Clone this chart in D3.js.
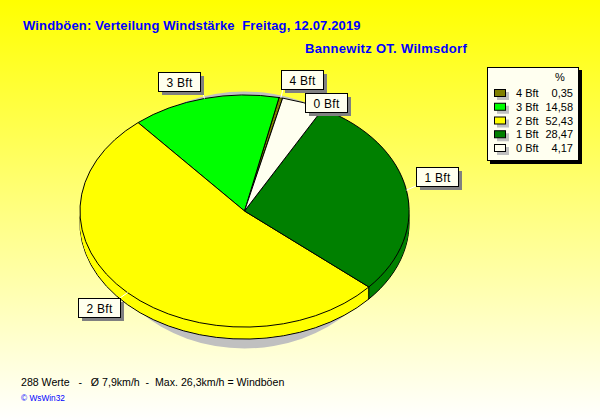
<!DOCTYPE html>
<html><head><meta charset="utf-8">
<script src="https://cdn.jsdelivr.net/npm/d3@7"></script>
<style>html,body{margin:0;padding:0;background:#fff}svg{display:block}text{font-family:"Liberation Sans",Arial,sans-serif;white-space:pre}</style>
</head><body><div id="c"></div>
<script>
const categories = ["4 Bft","3 Bft","2 Bft","1 Bft","0 Bft"];
const percents = [0.35,14.58,52.43,28.47,4.17];
const percentLabels = ["0,35","14,58","52,43","28,47","4,17"];
const colors = ["#808000","#00ff00","#ffff00","#008000","#fffff0"];
const titleText = "Windböen: Verteilung Windstärke  Freitag, 12.07.2019";
const subtitleText = "Bannewitz OT. Wilmsdorf";
const footerText = "288 Werte   -   Ø 7,9km/h  -  Max. 26,3km/h = Windböen";
const creditText = "© WsWin32";

const W=600,H=420,cx=244.5,cy=211,rx=164.5,ry=116,depth=12;
const startDeg=13.4;
const labelBoxes={ "4 Bft":[281,70],"3 Bft":[158,72],"2 Bft":[78,298],"1 Bft":[416,167],"0 Bft":[305,93] };
const leaderEnds={ "4 Bft":[283,89],"3 Bft":[202,90],"2 Bft":[120,298],"1 Bft":[416,186] };

const svg=d3.select("#c").append("svg").attr("width",W).attr("height",H);
const grad=svg.append("defs").append("linearGradient").attr("id","bg").attr("x1",0).attr("x2",0).attr("y1",0).attr("y2",1);
grad.append("stop").attr("offset",0).attr("stop-color","#ffff00");
grad.append("stop").attr("offset",1).attr("stop-color","#ffffff");
svg.append("rect").attr("width",W).attr("height",H).attr("fill","url(#bg)");

svg.append("text").attr("x",23).attr("y",30).attr("font-size",13).attr("letter-spacing",0.15).attr("font-weight","bold").attr("fill","#0000ff").text(titleText);
svg.append("text").attr("x",305).attr("y",53).attr("font-size",13).attr("letter-spacing",0.3).attr("font-weight","bold").attr("fill","#0000ff").text(subtitleText);

// shadow
svg.append("ellipse").attr("cx",cx).attr("cy",220).attr("rx",150).attr("ry",128.5).attr("fill","#c0c0c0");

const s0=startDeg*Math.PI/180;
const pie=d3.pie().sort(null).value((d,i)=>percents[i]).startAngle(s0).endAngle(s0-2*Math.PI);
const arcs=pie(categories).map((a,i)=>({...a,cat:categories[i],color:colors[i]}));
const arc=d3.arc().innerRadius(0).outerRadius(1);
const pt=t=>[cx+rx*Math.sin(t),cy-ry*Math.cos(t)];

function layer(dy,stroke){
  const g=svg.append("g").attr("transform",`translate(${cx},${cy+dy}) scale(${rx},${ry})`);
  g.selectAll("path").data(arcs).join("path").attr("d",arc).attr("fill",d=>d.color)
   .attr("stroke",stroke?"#000":"none").attr("stroke-width",1).attr("vector-effect","non-scaling-stroke");
}
layer(depth,true);
d3.range(depth-1,0,-1).forEach(d=>layer(d,false));
// wall edge at the visible radial boundary (2 Bft / 1 Bft)
const e=pt(arcs[3].startAngle);
svg.append("line").attr("x1",e[0]).attr("x2",e[0]).attr("y1",e[1]).attr("y2",e[1]+depth).attr("stroke","#000");
layer(0,true);

// leader lines
arcs.forEach(a=>{
  const end=leaderEnds[a.cat]; if(!end) return;
  const p=pt((a.startAngle+a.endAngle)/2);
  svg.append("line").attr("x1",p[0]).attr("y1",p[1]).attr("x2",end[0]).attr("y2",end[1]).attr("stroke","#fff");
});
// labels
const bw=42,bh=19;
arcs.forEach(a=>{
  const [x,y]=labelBoxes[a.cat];
  svg.append("rect").attr("x",x+4).attr("y",y+4).attr("width",bw).attr("height",bh).attr("fill","#808080");
  svg.append("rect").attr("x",x+.5).attr("y",y+.5).attr("width",bw).attr("height",bh).attr("fill","#ffffee").attr("stroke","#000");
  svg.append("text").attr("x",x+bw/2+.5).attr("y",y+14.5).attr("text-anchor","middle").attr("font-size",12).attr("letter-spacing",0.3).attr("fill","#000").text(a.cat);
});

// legend
const lx=487,ly=67,lw=91,lh=93;
svg.append("rect").attr("x",lx+3).attr("y",ly+3).attr("width",lw+1).attr("height",lh+1).attr("fill","#000");
svg.append("rect").attr("x",lx+.5).attr("y",ly+.5).attr("width",lw).attr("height",lh).attr("fill","#fffff0").attr("stroke","#000");
svg.append("text").attr("x",560).attr("y",81).attr("text-anchor","middle").attr("font-size",11).text("%");
const rowY=d3.scalePoint().domain(categories).range([93,148]);
categories.forEach((c,i)=>{
  const y=rowY(c);
  svg.append("rect").attr("x",497).attr("y",y-1).attr("width",12).attr("height",8).attr("fill","#c0c0c0");
  svg.append("rect").attr("x",494.5).attr("y",y-3.5).attr("width",11).attr("height",7).attr("fill",colors[i]).attr("stroke","#000");
  svg.append("text").attr("x",516).attr("y",y+4).attr("font-size",11).text(c);
  svg.append("text").attr("x",573).attr("y",y+4).attr("text-anchor","end").attr("font-size",11).text(percentLabels[i]);
});

// footer
svg.append("text").attr("x",21).attr("y",386).attr("font-size",10.6).attr("fill","#000").text(footerText);
svg.append("text").attr("x",21).attr("y",401).attr("font-size",8.3).attr("fill","#0000ff").text(creditText);
</script></body></html>
